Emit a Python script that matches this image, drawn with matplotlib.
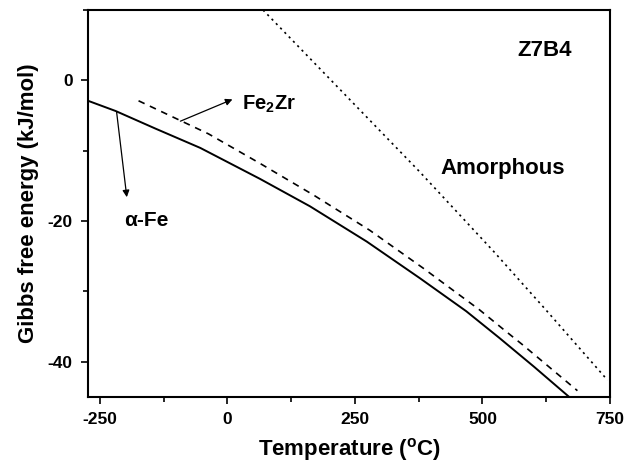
import matplotlib
matplotlib.use("Agg")
import matplotlib.pyplot as plt
from matplotlib.ticker import MultipleLocator

plt.rcParams['font.family'] = ['Liberation Sans', 'DejaVu Sans']
plt.rcParams['font.weight'] = 'bold'
plt.rcParams['axes.unicode_minus'] = False
plt.rcParams['mathtext.fontset'] = 'custom'
plt.rcParams['mathtext.rm'] = 'Liberation Sans:bold'
plt.rcParams['mathtext.it'] = 'Liberation Sans:bold'
plt.rcParams['mathtext.bf'] = 'Liberation Sans:bold'

# alpha-Fe (solid)
fe_T = [-273, -219, -141, -53, 64, 162, 273, 377, 468, 533, 601, 670]
fe_G = [-2.9, -4.35, -6.85, -9.6, -14.0, -17.9, -22.9, -28.1, -32.8, -36.6, -40.7, -45.0]

# Fe2Zr (dashed)
fz_T = [-174, -37, 64, 169, 279, 384, 494, 543, 579, 686]
fz_G = [-2.9, -7.6, -11.8, -16.3, -21.3, -26.7, -32.6, -35.5, -37.6, -44.1]

# amorphous (dotted)
am_T = [70, 377, 523, 624, 745]
am_G = [10.0, -13.0, -24.4, -32.6, -42.6]

fig = plt.figure(figsize=(6.27, 4.70), dpi=100)
ax = fig.add_axes([0.1404, 0.1553, 0.8326, 0.8234])

ax.plot(fe_T, fe_G, color='black', lw=1.4, ls='-')
ax.plot(fz_T, fz_G, color='black', lw=1.2, ls=(0, (4, 3.5)))
ax.plot(am_T, am_G, color='black', lw=1.2, ls=(0, (1.3, 2.4)))

ax.set_xlim(-273, 750)
ax.set_ylim(-45, 10)
ax.xaxis.set_major_locator(MultipleLocator(250))
ax.xaxis.set_minor_locator(MultipleLocator(125))
ax.yaxis.set_major_locator(MultipleLocator(20))
ax.yaxis.set_minor_locator(MultipleLocator(10))
ax.tick_params(which='major', direction='out', length=5, width=1.2, labelsize=12.5, pad=6)
ax.tick_params(which='minor', direction='out', length=3.5, width=1.2)
for s in ax.spines.values():
    s.set_linewidth(1.5)
for lab in ax.get_xticklabels() + ax.get_yticklabels():
    lab.set_fontweight('bold')

ax.set_xlabel('Temperature ($^{o}$C)', fontsize=16, fontweight='bold', labelpad=6)
ax.set_ylabel('Gibbs free energy (kJ/mol)', fontsize=16, fontweight='bold', labelpad=6)

ax.text(621, 4.3, 'Z7B4', fontsize=16, fontweight='bold', ha='center', va='center')
ax.text(539, -12.5, 'Amorphous', fontsize=16, fontweight='bold', ha='center', va='center')
ax.text(29, -3.4, 'Fe$_2$Zr', fontsize=14.5, fontweight='bold', ha='left', va='center')
ax.text(-203, -19.9, 'α-Fe', fontsize=15, fontweight='bold', ha='left', va='center')

ax.annotate('', xy=(10, -2.7), xytext=(-92, -5.8),
            arrowprops=dict(arrowstyle='-|>', color='black', lw=0.9,
                            mutation_scale=10, shrinkA=0, shrinkB=0))
ax.annotate('', xy=(-197, -16.6), xytext=(-217, -4.5),
            arrowprops=dict(arrowstyle='-|>', color='black', lw=0.9,
                            mutation_scale=10, shrinkA=0, shrinkB=0))

fig.savefig('out.png', dpi=100)
